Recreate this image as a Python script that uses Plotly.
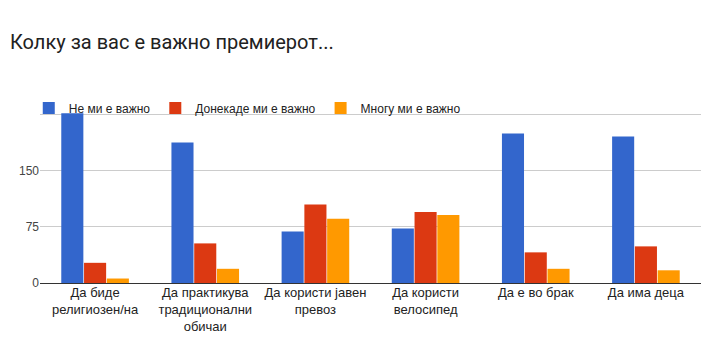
import plotly.graph_objects as go

categories = ["Да биде<br>религиозен/на", "Да практикува<br>традиционални<br>обичаи",
              "Да користи јавен<br>превоз", "Да користи<br>велосипед", "Да е во брак", "Да има деца"]
ne_vazno = [227, 188, 69, 73, 200, 196]
donekade = [27, 53, 105, 95, 41, 49]
mnogu = [6, 19, 86, 91, 19, 17]
series_names = ["Не ми е важно", "Донекаде ми е важно", "Многу ми е важно"]
colors = ["#3366cc", "#dc3912", "#ff9900"]
tick_vals = [0, 75, 150, 225]
tick_text = ["0", "75", "150", ""]

fig = go.Figure()
for name, vals, c in zip(series_names, [ne_vazno, donekade, mnogu], colors):
    fig.add_trace(go.Bar(x=categories, y=vals, name=name, marker=dict(color=c, line=dict(width=0))))

fig.update_layout(
    width=702, height=356,
    margin=dict(l=40, r=1, t=113, b=73),
    paper_bgcolor="white", plot_bgcolor="white",
    font=dict(family="Arial, Liberation Sans, sans-serif", size=12, color="#444"),
    title=dict(text="Колку за вас е важно премиерот...", x=10/702, xanchor="left",
               y=1 - 42/356, yanchor="middle",
               font=dict(family="Roboto, sans-serif", size=20, color="#212121")),
    barmode="group", bargap=0.38, bargroupgap=0.03,
    showlegend=True,
    legend=dict(orientation="h", x=-0.017, xanchor="left", y=1.029, yanchor="middle",
                bgcolor="rgba(0,0,0,0)",
                font=dict(size=12, color="#222"), traceorder="normal",
                itemwidth=30),
    xaxis=dict(showgrid=False, showline=False, ticks="", automargin=False,
               tickfont=dict(size=13, color="#222")),
    yaxis=dict(range=[0, 227.5], tickvals=tick_vals, ticktext=tick_text, automargin=False,
               showgrid=True, gridcolor="#cccccc", gridwidth=1,
               zeroline=True, zerolinecolor="#333", zerolinewidth=1,
               tickfont=dict(size=12, color="#444"), ticks=""),
)
fig.write_html("out.html", config={"displayModeBar": False},
               post_script="document.body.style.margin='0';")
